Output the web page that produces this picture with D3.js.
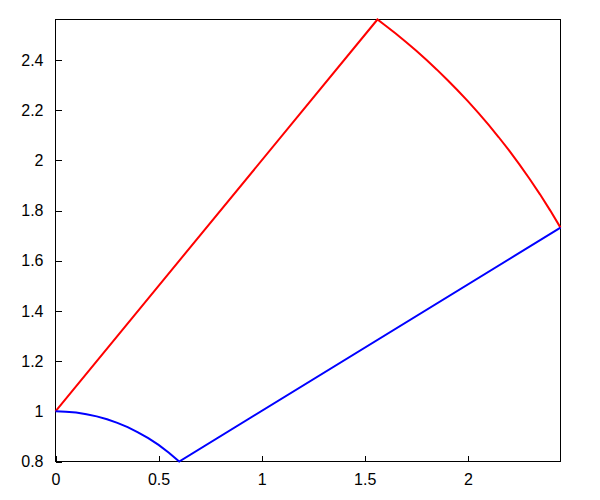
<!DOCTYPE html>
<html>
<head>
<meta charset="utf-8">
<script src="https://cdn.jsdelivr.net/npm/d3@7"></script>
<style>
  html, body { margin: 0; padding: 0; background: #fff; }
  svg { display: block; }
</style>
</head>
<body>
<svg id="chart" width="600" height="500"></svg>
<script>
// Red series: straight rise then circular arc down
const redX = [0, 1.5616, 1.60, 1.65, 1.70, 1.75, 1.80, 1.85, 1.90, 1.95, 2.00,
              2.05, 2.10, 2.15, 2.20, 2.25, 2.30, 2.35, 2.40, 2.4495];
const redY = [1, 2.5616, 2.5377, 2.5055, 2.4718, 2.4367, 2.4000, 2.3617, 2.3216, 2.2798, 2.2361,
              2.1903, 2.1424, 2.0923, 2.0396, 1.9843, 1.9261, 1.8648, 1.8000, 1.7321];

// Blue series: arc down to the dip, then straight rise
const blueX = [0, 0.05, 0.10, 0.15, 0.20, 0.25, 0.30, 0.35, 0.40, 0.45, 0.50, 0.55, 0.60, 2.4495];
const blueY = [1, 0.9987, 0.9950, 0.9887, 0.9798, 0.9682, 0.9539, 0.9367, 0.9165, 0.8930, 0.8660, 0.8352, 0.8, 1.7321];

const xTicks = [0, 0.5, 1, 1.5, 2];
const xTickLabels = ["0", "0.5", "1", "1.5", "2"];
const yTicks = [0.8, 1, 1.2, 1.4, 1.6, 1.8, 2, 2.2, 2.4];
const yTickLabels = ["0.8", "1", "1.2", "1.4", "1.6", "1.8", "2", "2.2", "2.4"];

const xDomain = [0, 2.4495];
const yDomain = [0.8, 2.5616];

(function () {
const svg = d3.select("#chart");
const mLeft = 55.5, mRight = 560.5, mTop = 19.5, mBottom = 461.5;
const FONT = "Liberation Sans, Arial, sans-serif";

const x = d3.scaleLinear().domain(xDomain).range([mLeft, mRight]);
const y = d3.scaleLinear().domain(yDomain).range([mBottom, mTop]);

const xAxis = d3.axisBottom(x).tickValues(xTicks).tickSize(-6).tickPadding(12)
  .tickFormat((d, i) => xTickLabels[i]);
const gx = svg.append("g").attr("transform", `translate(0,${mBottom})`).call(xAxis);
gx.select(".domain").remove();
gx.selectAll("line").attr("stroke", "#000").attr("shape-rendering", "crispEdges");
gx.selectAll("text").attr("font-family", FONT).attr("font-size", 16).attr("fill", "#000");

const yAxis = d3.axisLeft(y).tickValues(yTicks).tickSize(-6).tickPadding(12)
  .tickFormat((d, i) => yTickLabels[i]);
const gy = svg.append("g").attr("transform", `translate(${mLeft},0)`).call(yAxis);
gy.select(".domain").remove();
gy.selectAll("line").attr("stroke", "#000").attr("shape-rendering", "crispEdges");
gy.selectAll("text").attr("font-family", FONT).attr("font-size", 16).attr("fill", "#000");

svg.append("rect")
  .attr("x", mLeft).attr("y", mTop)
  .attr("width", mRight - mLeft).attr("height", mBottom - mTop)
  .attr("fill", "none").attr("stroke", "#000").attr("stroke-width", 1)
  .attr("shape-rendering", "crispEdges");

const line = d3.line().x(d => x(d[0])).y(d => y(d[1]));

const redData = redX.map((v, i) => [v, redY[i]]);
const blueData = blueX.map((v, i) => [v, blueY[i]]);

svg.append("path").datum(redData)
  .attr("d", line).attr("fill", "none").attr("stroke", "#ff0000").attr("stroke-width", 2);
svg.append("path").datum(blueData)
  .attr("d", line).attr("fill", "none").attr("stroke", "#0000ff").attr("stroke-width", 2);
})();
</script>
</body>
</html>
